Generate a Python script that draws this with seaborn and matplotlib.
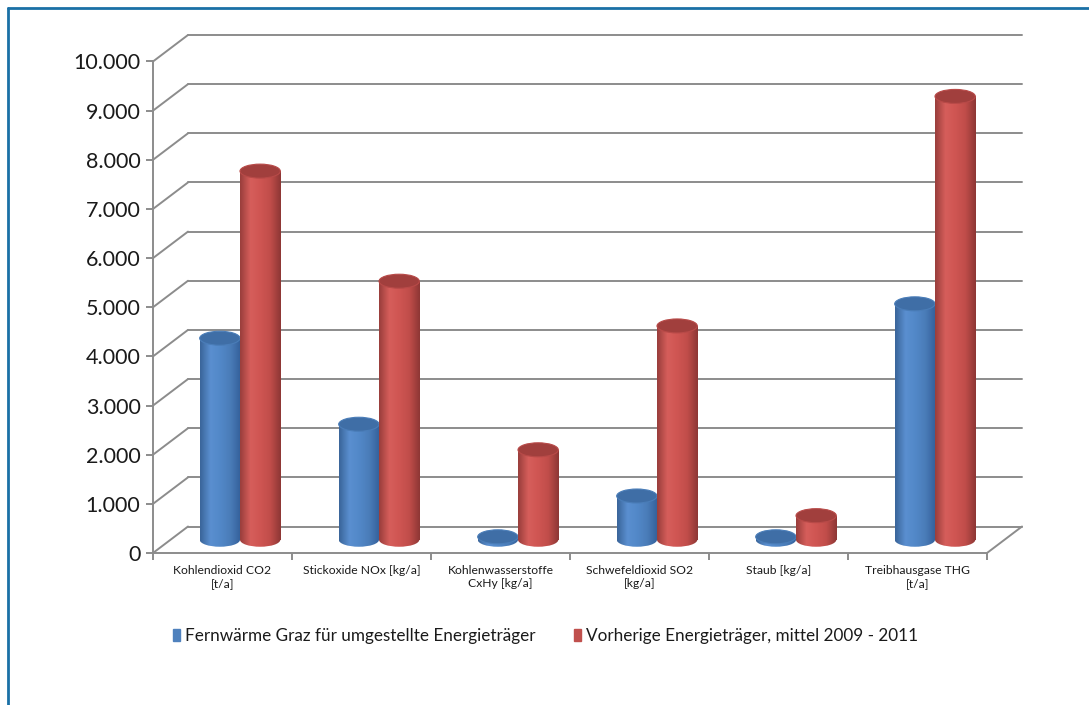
import numpy as np
import pandas as pd
import seaborn as sns
import matplotlib.pyplot as plt
from matplotlib.colors import LinearSegmentedColormap
from matplotlib.patches import Rectangle, Ellipse, Patch
from matplotlib.lines import Line2D
from matplotlib.ticker import FuncFormatter

# Daten
kategorien = ['Kohlendioxid CO2\n[t/a]', 'Stickoxide NOx [kg/a]', 'Kohlenwasserstoffe\nCxHy [kg/a]',
              'Schwefeldioxid SO2\n[kg/a]', 'Staub [kg/a]', 'Treibhausgase THG\n[t/a]']
serien = ['Fernwärme Graz für umgestellte Energieträger',
          'Vorherige Energieträger, mittel 2009 - 2011']
fernwaerme = [4100, 2350, 60, 890, 60, 4800]
vorherig = [7500, 5260, 1830, 4350, 490, 9020]
y_ticks = list(range(0, 10001, 1000))

sns.set_style('white')
plt.rcParams['font.family'] = ['Lato', 'DejaVu Sans']

df = pd.DataFrame({
    'Kategorie': kategorien * 2,
    'Serie': [serien[0]] * len(kategorien) + [serien[1]] * len(kategorien),
    'Wert': fernwaerme + vorherig,
})

W, H = 1089, 705
fig = plt.figure(figsize=(W / 100, H / 100), dpi=100)
ax = fig.add_axes([153 / W, 1 - 553 / H, 869 / W, 518 / H])

# pseudo-3D Tiefe (Datenkoordinaten)
dx = 35 / 139
dy = 539
grau = '#8c8c8c'

farben = ['#4F81BD', '#C0504D']
sns.barplot(data=df, x='Kategorie', y='Wert', hue='Serie', palette=farben,
            width=0.58, errorbar=None, legend=False, ax=ax)

cmaps = [
    LinearSegmentedColormap.from_list('b', ['#3a659a', '#5a8fd0', '#5288c8', '#4a7cb8', '#34609a']),
    LinearSegmentedColormap.from_list('r', ['#9a3e3c', '#d65e5b', '#cf5552', '#c04d4a', '#8e3735']),
]
deckel = ['#3f6ea6', '#a13f3d']
rim = ['#4a7db8', '#b84a48']
grad = np.linspace(0, 1, 64).reshape(1, -1)
px_per_unit = 518 / (10000 + dy)
eh = 14 / px_per_unit

for j, cont in enumerate(ax.containers):
    for rect in cont:
        x0 = rect.get_x() + dx / 2
        w = rect.get_width()
        h = rect.get_height()
        b = dy / 2
        rect.set_visible(False)
        z = 3 + j
        body = Rectangle((x0, b), w, h, facecolor='none', edgecolor='none')
        ax.add_patch(body)
        im = ax.imshow(grad, cmap=cmaps[j], extent=[x0, x0 + w, b, b + h],
                       aspect='auto', interpolation='bicubic', zorder=z)
        im.set_clip_path(body)
        bot = Ellipse((x0 + w / 2, b), w, eh, facecolor='none', edgecolor='none')
        ax.add_patch(bot)
        im2 = ax.imshow(grad, cmap=cmaps[j], extent=[x0, x0 + w, b - eh / 2, b + eh / 2],
                        aspect='auto', interpolation='bicubic', zorder=z)
        im2.set_clip_path(bot)
        ax.add_patch(Ellipse((x0 + w / 2, b + h), w, eh, facecolor=deckel[j],
                             edgecolor=rim[j], lw=0.8, zorder=z + 0.1))

# Rückwand, Seitenwand, Boden
for v in y_ticks:
    ax.plot([-0.5 + dx, 5.5 + dx], [v + dy, v + dy], color=grau, lw=1.4, zorder=1, clip_on=False)
    ax.plot([-0.5, -0.5 + dx], [v, v + dy], color=grau, lw=1.4, zorder=1, clip_on=False)
ax.plot([5.5, 5.5 + dx], [0, dy], color=grau, lw=1.4, zorder=1, clip_on=False)

ax.set_xlim(-0.5, 5.5 + dx)
ax.set_ylim(0, 10000 + dy)
ax.set_xlabel('')
ax.set_ylabel('')

for s in ['top', 'right']:
    ax.spines[s].set_visible(False)
for s in ['left', 'bottom']:
    ax.spines[s].set_color(grau)
    ax.spines[s].set_linewidth(1.4)
ax.spines['left'].set_bounds(0, 10000)
ax.spines['bottom'].set_bounds(-0.5, 5.5)

ax.set_yticks(y_ticks)
ax.yaxis.set_major_formatter(FuncFormatter(lambda v, p: f'{int(v):,}'.replace(',', '.')))
ax.tick_params(axis='y', left=True, length=5, width=1.4, color=grau, labelsize=15.5, pad=4,
               labelcolor='#1a1a1a')
ax.set_xticks(range(len(kategorien)))
ax.set_xticklabels(kategorien)
ax.set_xticks(np.arange(-0.5, 6, 1), minor=True)
ax.tick_params(axis='x', which='major', length=0, labelsize=8.7, pad=9, labelcolor='#1a1a1a')
ax.tick_params(axis='x', which='minor', bottom=True, length=5, width=1.4, color=grau)

# Legende
handles = [Patch(facecolor=c, edgecolor=c) for c in farben]
leg = fig.legend(handles, serien, loc='center', bbox_to_anchor=(0.501, 1 - 636 / H), ncol=2,
                 frameon=False, fontsize=12.3, handlelength=0.45, handleheight=0.75,
                 handletextpad=0.3, columnspacing=2.2)
for t in leg.get_texts():
    t.set_color('#1a1a1a')

# Rahmen
rand = '#1a70a6'
fig.add_artist(Line2D([8 / W, 8 / W], [0, 1 - 8 / H], transform=fig.transFigure, color=rand, lw=2))
fig.add_artist(Line2D([8 / W, 1], [1 - 8 / H, 1 - 8 / H], transform=fig.transFigure, color=rand, lw=2))

fig.savefig('out.png', dpi=100)
